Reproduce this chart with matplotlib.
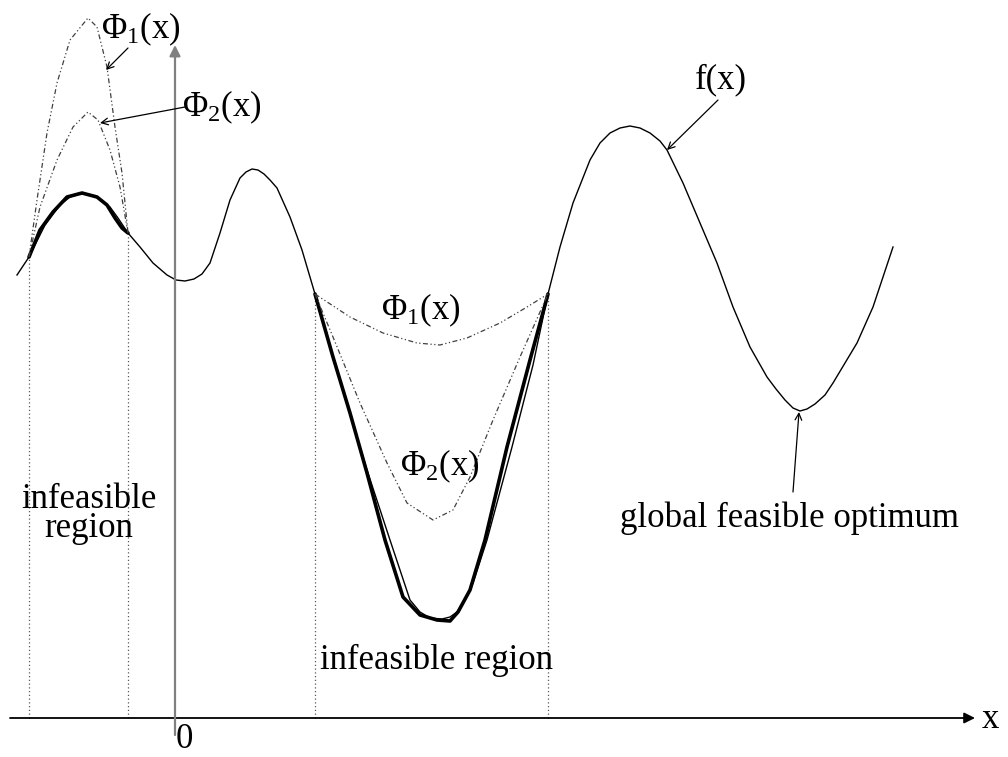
import matplotlib
matplotlib.use("Agg")
import matplotlib.pyplot as plt

plt.rcParams['font.family'] = ['Liberation Serif', 'DejaVu Serif']
plt.rcParams['mathtext.fontset'] = 'custom'
plt.rcParams['mathtext.rm'] = 'Liberation Serif'
plt.rcParams['mathtext.it'] = 'Liberation Serif:italic'

# ---- data (schematic units, origin at the axes crossing) ----
f_x = [-158, -146, -130, -115, -105, -95, -87, -80, -65, -57, -47, -35, -22, -8, 1, 10, 19, 27, 35, 45,
       55, 65, 71, 77, 83, 89, 95, 102, 115, 127, 140, 165, 192, 215, 235, 245, 255, 267, 275, 282,
       290, 298, 312, 337, 358, 373, 385, 398, 415, 425, 435, 445, 455, 465, 475, 485, 492, 508, 525,
       542, 558, 575, 592, 601, 610, 618, 625, 632, 640, 650, 658, 682, 698, 718]
f_y = [443, 461, 493, 513, 521, 524, 524, 522, 511, 500, 485, 471, 455, 443, 438, 437, 439, 444, 455, 485,
       518, 540, 546, 549, 548, 544, 538, 530, 501, 468, 424, 338, 248, 178, 118, 106, 100, 99, 101, 106,
       118, 135, 178, 271, 353, 424, 471, 515, 558, 575, 585, 590, 592, 590, 585, 577, 568, 535, 495,
       455, 411, 371, 341, 329, 318, 310, 307, 309, 314, 323, 335, 375, 411, 471]

thick_left_x = [-146, -135, -122, -108, -93, -78, -68, -60, -53, -47]
thick_left_y = [461, 488, 506, 521, 525, 521, 513, 500, 490, 485]
thick_mid_x = [140, 158, 175, 192, 210, 228, 245, 262, 275, 283, 295, 310, 332, 355, 373]
thick_mid_y = [424, 361, 305, 245, 178, 121, 103, 98, 97, 106, 128, 178, 271, 358, 424]

phi1_left_x = [-146, -138, -128, -118, -105, -87, -78, -68, -60, -53, -47]
phi1_left_y = [461, 518, 585, 635, 678, 700, 691, 651, 591, 545, 485]
phi2_left_x = [-146, -135, -118, -102, -87, -77, -65, -55, -47]
phi2_left_y = [461, 511, 558, 591, 606, 598, 568, 531, 485]

phi1_mid_x = [140, 175, 208, 242, 265, 292, 325, 352, 373]
phi1_mid_y = [424, 401, 385, 375, 373, 380, 395, 411, 424]
phi2_mid_x = [140, 158, 185, 212, 232, 258, 278, 295, 318, 345, 373]
phi2_mid_y = [424, 381, 315, 255, 215, 198, 208, 241, 298, 361, 424]

bound_x = [-146, -47, 140, 373]
bound_y = [461, 485, 424, 424]

fig = plt.figure(figsize=(10.08, 7.57), dpi=100)
ax = fig.add_axes([0, 0, 1, 1])
ax.set_xlim(-175, 833)
ax.set_ylim(-39, 718)
ax.axis('off')

dd = (0, (4, 2, 1, 2, 1, 2))

# region boundaries
for bx, by in zip(bound_x, bound_y):
    ax.plot([bx, bx], [0, by], color='0.35', lw=0.9, ls=(0, (1, 2)))

# axes
ax.annotate('', xy=(800, 0), xytext=(-165, 0),
            arrowprops=dict(arrowstyle='-|>', lw=1.3, color='black', mutation_scale=16,
                            shrinkA=0, shrinkB=0))
ax.annotate('', xy=(0, 673), xytext=(0, -17),
            arrowprops=dict(arrowstyle='-|>', lw=1.6, color='0.5', mutation_scale=16,
                            shrinkA=0, shrinkB=0))

# curves
ax.plot(f_x, f_y, color='black', lw=1.0, solid_joinstyle='round')
ax.plot(thick_left_x, thick_left_y, color='black', lw=2.6, solid_capstyle='round',
        solid_joinstyle='round')
ax.plot(thick_mid_x, thick_mid_y, color='black', lw=2.6, solid_capstyle='round',
        solid_joinstyle='round')
for xs, ys in [(phi1_left_x, phi1_left_y), (phi2_left_x, phi2_left_y),
               (phi1_mid_x, phi1_mid_y), (phi2_mid_x, phi2_mid_y)]:
    ax.plot(xs, ys, color='0.25', lw=0.9, ls=dd)

fs = 25
ax.text(815, -2, 'x', fontsize=fs, ha='center', va='center')
ax.text(9, -22, '0', fontsize=fs, ha='center', va='center')

ax.text(-34, 689, r'Φ$_1$(x)', fontsize=fs, ha='center', va='center')
ax.text(47, 611, r'Φ$_2$(x)', fontsize=fs, ha='center', va='center')
ax.text(246, 408, r'Φ$_1$(x)', fontsize=fs, ha='center', va='center')
ax.text(265, 252, r'Φ$_2$(x)', fontsize=fs, ha='center', va='center')
ax.text(546, 638, 'f(x)', fontsize=fs, ha='center', va='center')
ax.text(262, 58, 'infeasible region', fontsize=fs, ha='center', va='center')
ax.text(-86, 181, 'infeasible\nregion', fontsize=fs, ha='center', va='baseline',
        multialignment='center', linespacing=0.85)
ax.text(614, 200, 'global feasible optimum', fontsize=fs, ha='center', va='center')

arw = dict(arrowstyle='->', lw=0.9, color='black', mutation_scale=12, shrinkA=0, shrinkB=0)
ax.annotate('', xy=(-69, 648), xytext=(-47, 670), arrowprops=arw)
ax.annotate('', xy=(-75, 595), xytext=(10, 611), arrowprops=arw)
ax.annotate('', xy=(492, 568), xytext=(543, 618), arrowprops=arw)
ax.annotate('', xy=(624, 306), xytext=(618, 226), arrowprops=arw)

fig.savefig('out.png', dpi=100)
